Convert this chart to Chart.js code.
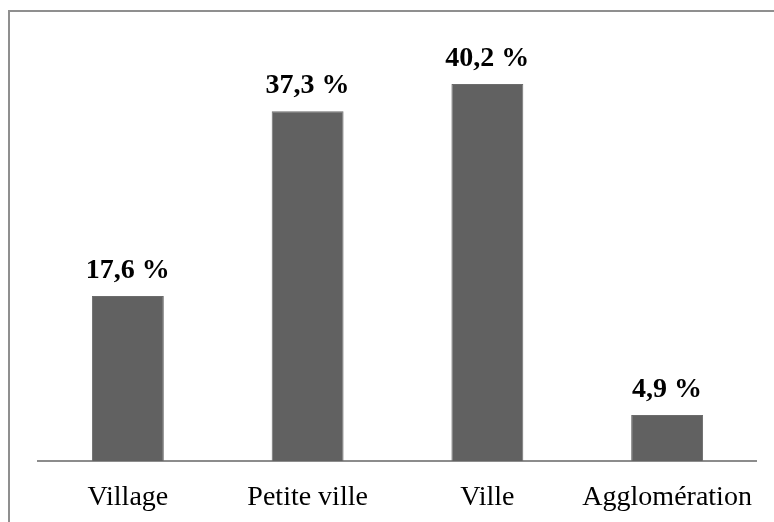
<!DOCTYPE html>
<html>
<head>
<meta charset="utf-8">
<script src="https://cdn.jsdelivr.net/npm/chart.js@4/dist/chart.umd.min.js"></script>
<style>
  body { margin: 0; background: #fff; }
  #wrap { position: relative; width: 774px; height: 522px; overflow: hidden; }
  #frame { position: absolute; left: 8px; top: 10px; width: 800px; height: 600px;
           border-top: 2px solid #8f8f8f; border-left: 2px solid #8f8f8f; }
  canvas { position: absolute; left: 0; top: 0; }
</style>
</head>
<body>
<div id="wrap">
  <div id="frame"></div>
  <!-- canvas a bit taller than the window so the axis sits where the original has it -->
  <canvas id="chart" width="774" height="534"></canvas>
</div>
<script>
'use strict';

var categories = ["Village", "Petite ville", "Ville", "Agglomération"];
var shares = [17.6, 37.3, 40.2, 4.9];
var yMin = 0;
var yMax = 45;

// draws "17,6 %" style labels above each bar
var valueLabels = {
  id: 'valueLabels',
  afterDatasetsDraw: function (chart) {
    var ctx = chart.ctx;
    var meta = chart.getDatasetMeta(0);
    ctx.save();
    ctx.font = 'bold 28px "Liberation Serif", "Times New Roman", serif';
    ctx.fillStyle = '#000';
    ctx.textAlign = 'center';
    ctx.textBaseline = 'alphabetic';
    meta.data.forEach(function (bar, i) {
      var txt = shares[i].toFixed(1).replace('.', ',') + ' %';
      ctx.fillText(txt, bar.x, bar.y - 18);
    });
    ctx.restore();
  }
};

var ctx = document.getElementById('chart');
var myChart = new Chart(ctx, {
  type: 'bar',
  data: {
    labels: categories,
    datasets: [{
      data: shares,
      backgroundColor: '#616161',
      borderColor: '#6c6c6c',
      borderWidth: 1,
      barPercentage: 0.4,
      categoryPercentage: 1.0
    }]
  },
  options: {
    responsive: false,
    animation: false,
    layout: {
      padding: { left: 38, right: 17, top: 39, bottom: 0 }
    },
    plugins: {
      legend: { display: false },
      tooltip: { enabled: false }
    },
    scales: {
      x: {
        grid: { display: false, drawTicks: false },
        border: { display: true, color: '#8c8c8c', width: 2 },
        ticks: {
          color: '#000',
          padding: 20,
          maxRotation: 0,
          minRotation: 0,
          autoSkip: false,
          font: { family: '"Liberation Serif", "Times New Roman", serif', size: 28, lineHeight: 1.18 }
        }
      },
      y: {
        display: false,
        min: yMin,
        max: yMax
      }
    }
  },
  plugins: [valueLabels]
});
</script>
</body>
</html>
